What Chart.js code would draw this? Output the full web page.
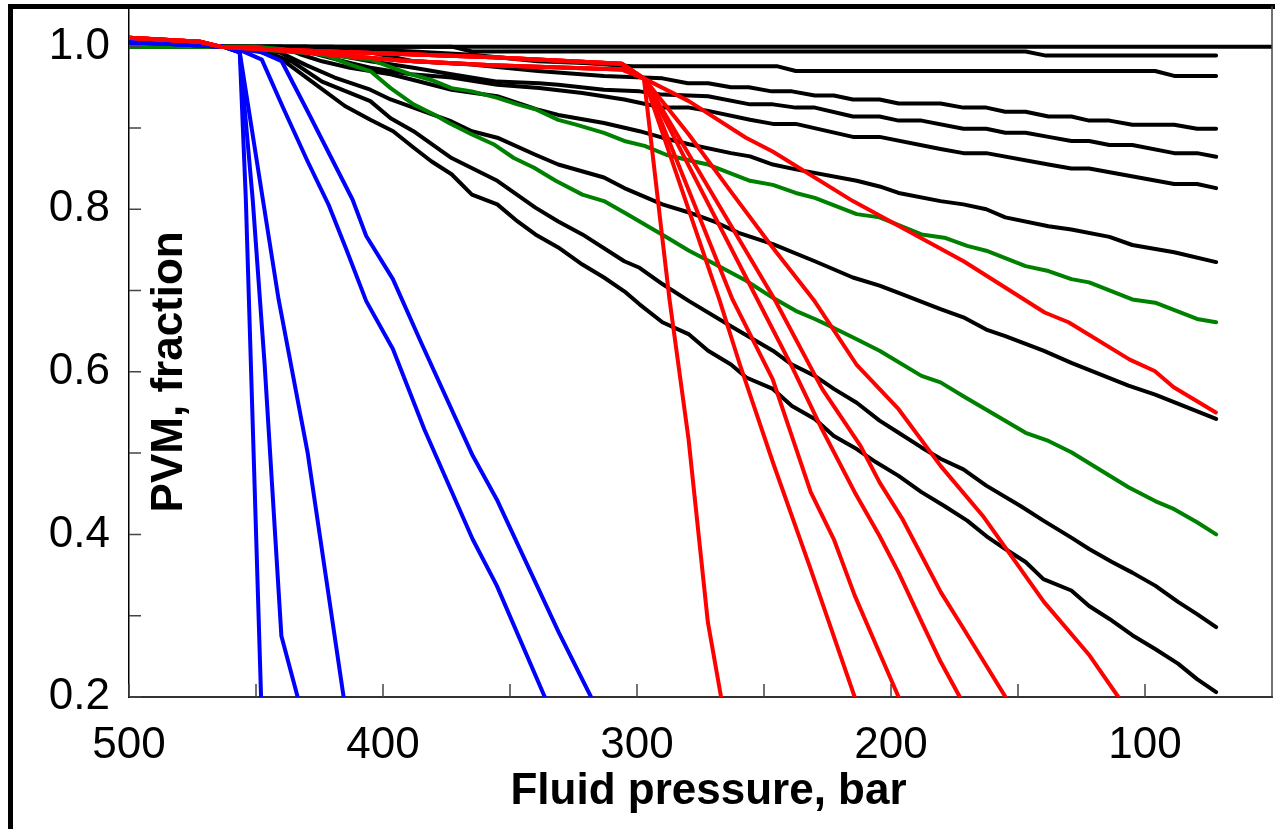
<!DOCTYPE html>
<html>
<head>
<meta charset="utf-8">
<title>PVM vs fluid pressure</title>
<script src="https://cdn.jsdelivr.net/npm/chart.js@4.4.0/dist/chart.umd.min.js"></script>
<style>
  html, body { margin: 0; padding: 0; background: #fff; }
  #wrap { width: 1275px; height: 829px; }
</style>
</head>
<body>
<div id="wrap"><canvas id="pvmChart" width="1275" height="829"></canvas></div>
<script>
// tick labels
var xTickLabels = [500, 400, 300, 200, 100];
var yTickLabels = [0.2, 0.4, 0.6, 0.8, 1.0];

// every series is a list of [fluid pressure (bar), PVM (fraction)]
var black0 = [[500, 1.0], [50, 1.0]];
var black1 = [[500, 1.0], [373, 1.0], [365, 0.994], [147, 0.994], [139, 0.989], [72, 0.989]];
var black2 = [[500, 1.0], [430, 1.0], [388, 0.994], [365, 0.990], [339, 0.982], [321, 0.980], [302, 0.976],
  [245, 0.976], [237.5, 0.970], [96, 0.970], [88.5, 0.964], [72, 0.964]];
var black3 = [[500, 1.0], [420, 1.0], [405, 0.993], [388, 0.982], [365, 0.978], [339, 0.970], [313, 0.964],
  [290, 0.961], [280, 0.955], [272, 0.955], [263, 0.950], [256, 0.950], [247, 0.945], [239, 0.945],
  [230, 0.940], [222.5, 0.940], [215, 0.935], [204.5, 0.935], [197, 0.930], [180.5, 0.930], [171.5, 0.925],
  [162.5, 0.925], [155, 0.920], [147, 0.920], [138, 0.914], [129, 0.914], [122, 0.909], [114, 0.909],
  [105, 0.904], [88.5, 0.904], [79.5, 0.899], [72, 0.899]];
var black4 = [[500, 1.0], [430, 1.0], [419, 0.990], [405, 0.982], [388, 0.974], [373, 0.966], [355, 0.957],
  [338.5, 0.955], [331, 0.953], [313, 0.947], [299, 0.945], [290, 0.941], [272, 0.939], [255.5, 0.929],
  [246.5, 0.929], [237.5, 0.925], [230, 0.925], [215, 0.914], [204.5, 0.914], [197, 0.909], [188, 0.909],
  [171.5, 0.899], [162.5, 0.899], [155, 0.894], [147, 0.894], [138, 0.889], [129, 0.884], [122, 0.884],
  [114, 0.879], [105, 0.879], [88.5, 0.869], [79.5, 0.869], [72, 0.8645]];
var black5 = [[500, 1.0], [440, 1.0], [428, 0.992], [413, 0.980], [405, 0.974], [389, 0.966], [373, 0.962],
  [355, 0.953], [338.5, 0.949], [321.5, 0.943], [305, 0.935], [299, 0.931], [290, 0.925], [279.5, 0.925],
  [272, 0.921], [255.5, 0.910], [246.5, 0.905], [237.5, 0.905], [215, 0.889], [204.5, 0.889], [180.5, 0.874],
  [171.5, 0.869], [162.5, 0.869], [138, 0.855], [129, 0.850], [122, 0.850], [88.5, 0.831], [79.5, 0.831],
  [72, 0.826]];
var black6 = [[500, 1.0], [440, 1.0], [432, 0.990], [424, 0.982], [413, 0.974], [397, 0.966], [388, 0.959],
  [373, 0.947], [355, 0.939], [338.5, 0.922], [331, 0.916], [313, 0.906], [299, 0.896], [290, 0.888],
  [279.5, 0.880], [263, 0.869], [255.5, 0.865], [246.5, 0.855], [237.5, 0.849], [213.5, 0.835], [204.5, 0.828],
  [197, 0.820], [180.5, 0.810], [171.5, 0.806], [162.5, 0.800], [155, 0.790], [138, 0.779], [129, 0.775],
  [114, 0.766], [105, 0.756], [88.5, 0.747], [72, 0.735]];
var black7 = [[500, 1.0], [452, 1.0], [440, 0.992], [430, 0.977], [419, 0.962], [405, 0.947], [397, 0.935],
  [388, 0.925], [373, 0.908], [365, 0.896], [355, 0.888], [340, 0.867], [331, 0.855], [313, 0.839],
  [305, 0.826], [299, 0.818], [290, 0.806], [279.5, 0.796], [269, 0.784], [260, 0.771], [246.5, 0.757],
  [230, 0.736], [215, 0.716], [204.5, 0.706], [197, 0.697], [180.5, 0.677], [171.5, 0.667], [162.5, 0.652],
  [155, 0.644], [140, 0.626], [129, 0.611], [106.5, 0.583], [96, 0.572], [72, 0.542]];
var black8 = [[500, 1.0], [452, 1.0], [436, 0.982], [424, 0.957], [405, 0.933], [397, 0.912], [388, 0.896],
  [373, 0.863], [355, 0.835], [340, 0.802], [331, 0.785], [321.5, 0.769], [305, 0.736], [299, 0.728],
  [290, 0.708], [279.5, 0.687], [263, 0.656], [246.5, 0.626], [239, 0.609], [230, 0.595], [222.5, 0.579],
  [213.5, 0.562], [204.5, 0.540], [197, 0.525], [188, 0.507], [180.5, 0.493], [171.5, 0.480], [162.5, 0.460],
  [149, 0.435], [140, 0.417], [129, 0.396], [122, 0.382], [113, 0.366], [105, 0.353], [96, 0.337],
  [87, 0.317], [79.5, 0.302], [72, 0.286]];
var black9 = [[500, 1.0], [455, 1.0], [440.5, 0.986], [428, 0.957], [415, 0.927], [405, 0.910], [396, 0.896],
  [388, 0.876], [381, 0.859], [373, 0.843], [365, 0.818], [355, 0.806], [347, 0.785], [340, 0.769],
  [331, 0.753], [321.5, 0.732], [313, 0.716], [305, 0.699], [299, 0.683], [290, 0.661], [279.5, 0.646],
  [272, 0.626], [263, 0.609], [257, 0.593], [246.5, 0.579], [239, 0.558], [230, 0.542], [222.5, 0.521],
  [213.5, 0.505], [206, 0.489], [197, 0.472], [188, 0.452], [179, 0.435], [170, 0.417], [162.5, 0.398],
  [155, 0.382], [147, 0.366], [140, 0.345], [129, 0.331], [122, 0.312], [114, 0.296], [105, 0.276],
  [96, 0.259], [87, 0.241], [79.5, 0.222], [72, 0.206]];

var green1 = [[500, 1.0], [450, 1.0], [446, 0.996], [421.5, 0.990], [405, 0.984], [389, 0.966], [381, 0.959],
  [373, 0.949], [365, 0.945], [355, 0.937], [347, 0.929], [340, 0.923], [331, 0.910], [324, 0.904],
  [313, 0.894], [305, 0.884], [297, 0.878], [288.5, 0.867], [278, 0.859], [272, 0.855], [255.5, 0.835],
  [246.5, 0.830], [237.5, 0.820], [230, 0.814], [213.5, 0.794], [204.5, 0.790], [188, 0.769], [179, 0.765],
  [170, 0.755], [162.5, 0.749], [147, 0.730], [138, 0.724], [129, 0.714], [122, 0.710], [105, 0.689],
  [96, 0.685], [79.5, 0.665], [72, 0.661]];
var green2 = [[500, 1.0], [450, 1.0], [430, 0.994], [421.5, 0.988], [413, 0.978], [405, 0.970], [397, 0.949],
  [388, 0.929], [379.5, 0.916], [374, 0.906], [365, 0.892], [356.5, 0.880], [348.5, 0.863], [340.5, 0.851],
  [332, 0.835], [321.5, 0.818], [313, 0.810], [304, 0.794], [288, 0.765], [279.5, 0.749], [269, 0.732],
  [257, 0.712], [246.5, 0.691], [237.5, 0.675], [230, 0.665], [222.5, 0.654], [213.5, 0.640], [204.5, 0.626],
  [188, 0.595], [180.5, 0.587], [171.5, 0.570], [147, 0.525], [138, 0.515], [129, 0.501], [106.5, 0.458],
  [96, 0.441], [88.5, 0.431], [79.5, 0.415], [72, 0.400]];

var blue1 = [[500, 1.005], [487, 1.004], [463, 1.0], [456.4, 0.993], [454, 0.812], [448, 0.2], [447, 0.12]];
var blue2 = [[500, 1.005], [487, 1.004], [463, 1.0], [456.4, 0.993], [451.3, 0.812], [446.6, 0.609],
  [440, 0.275], [433.6, 0.2], [431, 0.16]];
var blue3 = [[500, 1.005], [487, 1.004], [463, 1.0], [456.4, 0.993], [447.3, 0.812], [441.1, 0.689],
  [429.7, 0.501], [415.5, 0.2], [413.5, 0.16]];
var blue4 = [[500, 1.005], [487, 1.004], [463, 1.0], [456.4, 0.996], [447.7, 0.984], [439.5, 0.926],
  [429.7, 0.859], [421.5, 0.806], [414.5, 0.751], [406.6, 0.687], [396.1, 0.628], [383.7, 0.529],
  [364.7, 0.394], [355.2, 0.337], [336.3, 0.2], [334, 0.17]];
var blue5 = [[500, 1.005], [487, 1.004], [463, 1.0], [447.7, 0.993], [439.9, 0.982], [430.1, 0.923],
  [412, 0.812], [406.6, 0.767], [396.1, 0.714], [385, 0.636], [364.7, 0.497], [355.2, 0.443],
  [330.9, 0.28], [318.1, 0.2], [316, 0.18]];

// the red runs share a flat start before the break near 297 bar
var redLeadA = [[500, 1.011], [472, 1.006], [464, 1.0], [438, 0.996], [393, 0.991], [357, 0.987], [306, 0.979], [297.3, 0.961]];
var redLeadB = [[500, 1.011], [472, 1.006], [464, 1.0], [438, 0.995], [393, 0.983], [357, 0.977], [306, 0.972], [297.3, 0.961]];
var red1 = redLeadA.concat([[290.2, 0.769], [287.2, 0.689], [279.7, 0.517], [272.1, 0.292], [266.9, 0.2], [266, 0.17]]);
var red2 = redLeadB.concat([[267.6, 0.689], [259.5, 0.609], [246.2, 0.486], [231.6, 0.357], [214.3, 0.2], [213, 0.18]]);
var red3 = redLeadA.concat([[262.4, 0.689], [246.6, 0.591], [231.6, 0.452], [222.5, 0.394], [214.3, 0.325],
  [205.2, 0.259], [197, 0.2], [195.5, 0.18]]);
var red4 = redLeadB.concat([[252.6, 0.689], [239.1, 0.607], [227.1, 0.529], [214.3, 0.452], [204.5, 0.398],
  [197, 0.353], [187.9, 0.292], [180.4, 0.243], [172.9, 0.2], [171.5, 0.18]]);
var red5 = redLeadA.concat([[245.8, 0.689], [227.1, 0.579], [212, 0.509], [204.5, 0.464], [195.5, 0.419],
  [180.4, 0.329], [171.4, 0.284], [154.9, 0.2], [153, 0.18]]);
var red6 = redLeadB.concat([[279.6, 0.892], [263.1, 0.822], [246.6, 0.753], [230.1, 0.687], [213.6, 0.609],
  [197, 0.554], [180.4, 0.484], [163.9, 0.423], [139.8, 0.317], [121.8, 0.251], [110.5, 0.2], [109, 0.18]]);
var red7 = redLeadA.concat([[279.6, 0.933], [257.1, 0.888], [246.6, 0.871], [215, 0.81], [171.4, 0.736],
  [139.5, 0.673], [130.1, 0.661], [106, 0.615], [96.2, 0.601], [88.7, 0.581], [72.1, 0.55]]);

var FONT = 'Arial, "Liberation Sans", sans-serif';

function line(points, color) {
  return { data: points, borderColor: color, backgroundColor: color, fill: false, clip: 0 };
}

// first dataset is drawn on top
var datasets = [
  line(red1, '#ff0000'), line(red2, '#ff0000'), line(red3, '#ff0000'), line(red4, '#ff0000'),
  line(red5, '#ff0000'), line(red6, '#ff0000'), line(red7, '#ff0000'),
  line(blue1, '#0000ff'), line(blue2, '#0000ff'), line(blue3, '#0000ff'), line(blue4, '#0000ff'), line(blue5, '#0000ff'),
  line(green1, '#008000'), line(green2, '#008000'),
  line(black0, '#000000'), line(black1, '#000000'), line(black2, '#000000'), line(black3, '#000000'),
  line(black4, '#000000'), line(black5, '#000000'), line(black6, '#000000'), line(black7, '#000000'),
  line(black8, '#000000'), line(black9, '#000000')
];

// frame, inward tick marks and the two axis titles
var framePlugin = {
  id: 'frame',
  beforeDraw: function (chart) {
    var ctx = chart.ctx;
    ctx.save();
    ctx.fillStyle = '#fff';
    ctx.fillRect(0, 0, chart.width, chart.height);
    ctx.fillStyle = '#000';
    ctx.fillRect(8, 4, chart.width - 8, 5);
    ctx.fillRect(8, 4, 5, chart.height - 4);
    ctx.restore();
  },
  afterDraw: function (chart) {
    var ctx = chart.ctx, a = chart.chartArea;
    var xs = chart.scales.x, ys = chart.scales.y;
    ctx.save();
    ctx.strokeStyle = '#444';
    ctx.lineWidth = 1.5;
    ctx.beginPath();
    xs.ticks.forEach(function (t) {
      var px = xs.getPixelForValue(t.value);
      ctx.moveTo(px, a.bottom);
      ctx.lineTo(px, a.bottom - 13);
    });
    ys.ticks.forEach(function (t) {
      var py = ys.getPixelForValue(t.value);
      ctx.moveTo(a.left, py);
      ctx.lineTo(a.left + 12, py);
    });
    ctx.moveTo(a.right, a.top);
    ctx.lineTo(a.right, a.bottom);
    ctx.stroke();

    ctx.font = 'bold 44px ' + FONT;
    ctx.fillStyle = '#000';
    ctx.textAlign = 'center';
    ctx.textBaseline = 'middle';
    // x title, a little right of the plot centre as in the source
    ctx.fillText('Fluid pressure, bar', (a.left + a.right) / 2 + 8, a.bottom + 95);
    // y title sits inside the plot area
    ctx.translate(a.left + 41, ys.getPixelForValue(0.6));
    ctx.rotate(-Math.PI / 2);
    ctx.fillText('PVM, fraction', 0, 0);
    ctx.restore();
  }
};

new Chart(document.getElementById('pvmChart'), {
  type: 'line',
  data: { datasets: datasets },
  options: {
    responsive: false,
    animation: false,
    events: [],
    layout: { padding: { top: 6, right: 3, left: 0, bottom: 0 } },
    plugins: { legend: { display: false }, tooltip: { enabled: false } },
    elements: {
      point: { radius: 0 },
      line: { tension: 0, borderWidth: 4, borderCapStyle: 'round', borderJoinStyle: 'round' }
    },
    scales: {
      x: {
        type: 'linear',
        reverse: true,
        min: 50,
        max: 500,
        afterFit: function (s) {
          s.height = 132;
          s.paddingLeft = 0;
          s.paddingRight = 0;
        },
        grid: { display: false },
        border: { display: true, color: '#333', width: 2 },
        ticks: {
          stepSize: 50,
          autoSkip: false,
          maxRotation: 0,
          includeBounds: false,
          padding: 14,
          color: '#000',
          font: { family: FONT, size: 44 },
          callback: function (v) { return xTickLabels.indexOf(v) >= 0 ? String(v) : ''; }
        },
        title: { display: false }
      },
      y: {
        type: 'linear',
        min: 0.2,
        max: 1.05,
        afterFit: function (s) {
          s.width = 129;
          s.paddingTop = 0;
          s.paddingBottom = 0;
        },
        grid: { display: false },
        border: { display: true, color: '#000', width: 1.5 },
        ticks: {
          stepSize: 0.1,
          includeBounds: false,
          padding: 11,
          color: '#000',
          font: { family: FONT, size: 44 },
          callback: function (v) {
            var show = yTickLabels.some(function (t) { return Math.abs(t - v) < 1e-6; });
            return show ? v.toFixed(1) : '';
          }
        }
      }
    }
  },
  plugins: [framePlugin]
});
</script>
</body>
</html>
